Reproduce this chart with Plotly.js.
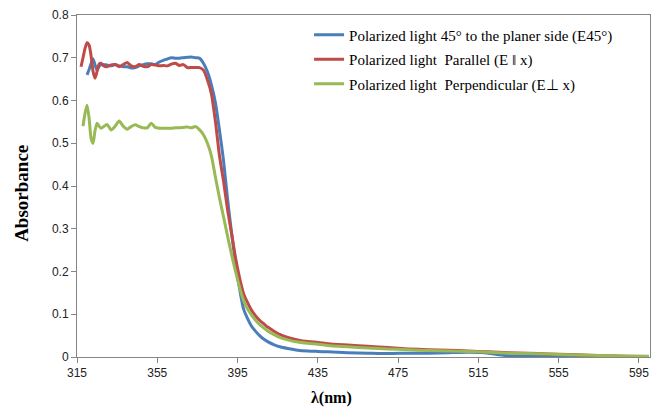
<!DOCTYPE html>
<html>
<head>
<meta charset="utf-8">
<script src="https://cdn.plot.ly/plotly-3.0.1.min.js"></script>
<style>html,body{margin:0;padding:0;background:#fff;}#chart{width:663px;height:409px;}</style>
</head>
<body>
<div id="chart"></div>
<script>
// Wavelength grid (nm)
const wavelength = [317,318,319,320,321,322,323,324,325,326,327,328,330,332,334,336,338,340,342,344,346,348,350,352,354,356,358,360,362,364,366,368,370,372,374,376,378,380,382,384,386,388,390,392,394,396,398,400,402,404,406,408,410,413,416,420,425,430,435,440,445,450,460,470,480,490,500,510,520,525,530,540,550,560,570,580,590,600];

// Polarized light 45° to the planer side (E45°)
const absE45 = [null,null,null,0.660,0.672,0.686,0.697,0.683,0.671,0.680,0.684,0.684,0.683,0.681,0.684,0.681,0.679,0.679,0.676,0.677,0.681,0.684,0.686,0.686,0.684,0.690,0.694,0.697,0.700,0.699,0.699,0.700,0.701,0.702,0.700,0.699,0.687,0.667,0.636,0.594,0.530,0.460,0.370,0.290,0.220,0.160,0.112,0.090,0.072,0.060,0.050,0.042,0.036,0.029,0.024,0.020,0.016,0.014,0.013,0.012,0.011,0.010,0.009,0.008,0.009,0.009,0.010,0.011,0.009,0.005,0.003,0.002,0.002,0.001,0.001,0.001,0.001,0.001];

// Polarized light Parallel (E || x)
const absPar = [0.679,0.700,0.722,0.735,0.730,0.705,0.668,0.652,0.668,0.685,0.687,0.682,0.679,0.683,0.684,0.679,0.684,0.689,0.681,0.679,0.684,0.680,0.679,0.684,0.683,0.681,0.682,0.681,0.685,0.687,0.682,0.684,0.677,0.677,0.677,0.677,0.671,0.648,0.615,0.550,0.470,0.412,0.345,0.290,0.232,0.185,0.148,0.127,0.109,0.096,0.086,0.078,0.070,0.061,0.053,0.046,0.040,0.036,0.034,0.031,0.029,0.028,0.025,0.022,0.019,0.017,0.016,0.014,0.012,0.011,0.010,0.009,0.007,0.006,0.004,0.003,0.002,0.001];

// Polarized light Perpendicular (E ⊥ x)
const absPerp = [null,0.540,0.570,0.589,0.560,0.512,0.500,0.530,0.547,0.540,0.535,0.538,0.544,0.531,0.540,0.552,0.540,0.533,0.539,0.543,0.539,0.536,0.536,0.547,0.537,0.535,0.535,0.535,0.535,0.536,0.536,0.537,0.538,0.536,0.539,0.532,0.520,0.500,0.470,0.420,0.372,0.328,0.283,0.240,0.200,0.163,0.132,0.112,0.098,0.086,0.076,0.068,0.061,0.053,0.046,0.040,0.035,0.032,0.030,0.027,0.025,0.024,0.021,0.019,0.017,0.015,0.014,0.013,0.011,0.010,0.009,0.008,0.007,0.005,0.004,0.003,0.002,0.002];

const seriesNames = ["Polarized light 45° to the planer side (E45°)", "Polarized light  Parallel (E ǁ x)", "Polarized light  Perpendicular (E⊥ x)"];
const seriesColors = ["#4A7EBB", "#BE4B48", "#98B954"];
const xTicks = [315,355,395,435,475,515,555,595];
const yTicks = [0,0.1,0.2,0.3,0.4,0.5,0.6,0.7,0.8];
const yTickText = ["0","0.1","0.2","0.3","0.4","0.5","0.6","0.7","0.8"];

const series = [absE45, absPar, absPerp];
const traces = series.map((y, i) => ({
  type: 'scatter', mode: 'lines', x: wavelength, y: y, name: seriesNames[i],
  legendgroup: 'g' + i,
  line: {color: seriesColors[i], width: 3, shape: 'spline', smoothing: 0.6},
  connectgaps: false
}));

const axisColor = '#868686';
const serif = 'Liberation Serif, Times New Roman, serif';
const layout = {
  width: 663, height: 409,
  margin: {l: 77, r: 13, t: 15, b: 52},
  paper_bgcolor: '#fff', plot_bgcolor: '#fff',
  showlegend: true,
  legend: {x: 0.405, y: 0.99, xanchor: 'left', yanchor: 'top', bgcolor: 'rgba(0,0,0,0)',
           font: {family: serif, size: 15, color: '#000'},
           tracegroupgap: 2, itemwidth: 30},
  xaxis: {range: [315, 600.5], tickvals: xTicks, ticktext: xTicks.map(String),
          showgrid: false, zeroline: false, showline: true, linecolor: axisColor, linewidth: 1,
          mirror: true, ticks: 'outside', ticklen: 5, tickcolor: axisColor,
          tickfont: {family: 'Liberation Sans, Arial, sans-serif', size: 12, color: '#222'}},
  yaxis: {range: [0, 0.8], tickvals: yTicks, ticktext: yTickText,
          showgrid: false, zeroline: false, showline: true, linecolor: axisColor, linewidth: 1,
          mirror: true, ticks: 'outside', ticklen: 5, tickcolor: axisColor,
          tickfont: {family: 'Liberation Sans, Arial, sans-serif', size: 12, color: '#222'}},
  annotations: [
    {text: '<b>λ(nm)</b>', xref: 'paper', yref: 'paper', x: 0.445, y: 0, yshift: -41,
     xanchor: 'center', yanchor: 'middle', showarrow: false,
     font: {family: serif, size: 16, color: '#000'}},
    {text: '<b>Absorbance</b>', xref: 'paper', yref: 'paper', x: 0, xshift: -55, y: 0.477,
     xanchor: 'center', yanchor: 'middle', textangle: -90, showarrow: false,
     font: {family: serif, size: 19, color: '#000'}}
  ]
};

Plotly.newPlot('chart', traces, layout, {displayModeBar: false, staticPlot: true});
</script>
</body>
</html>
